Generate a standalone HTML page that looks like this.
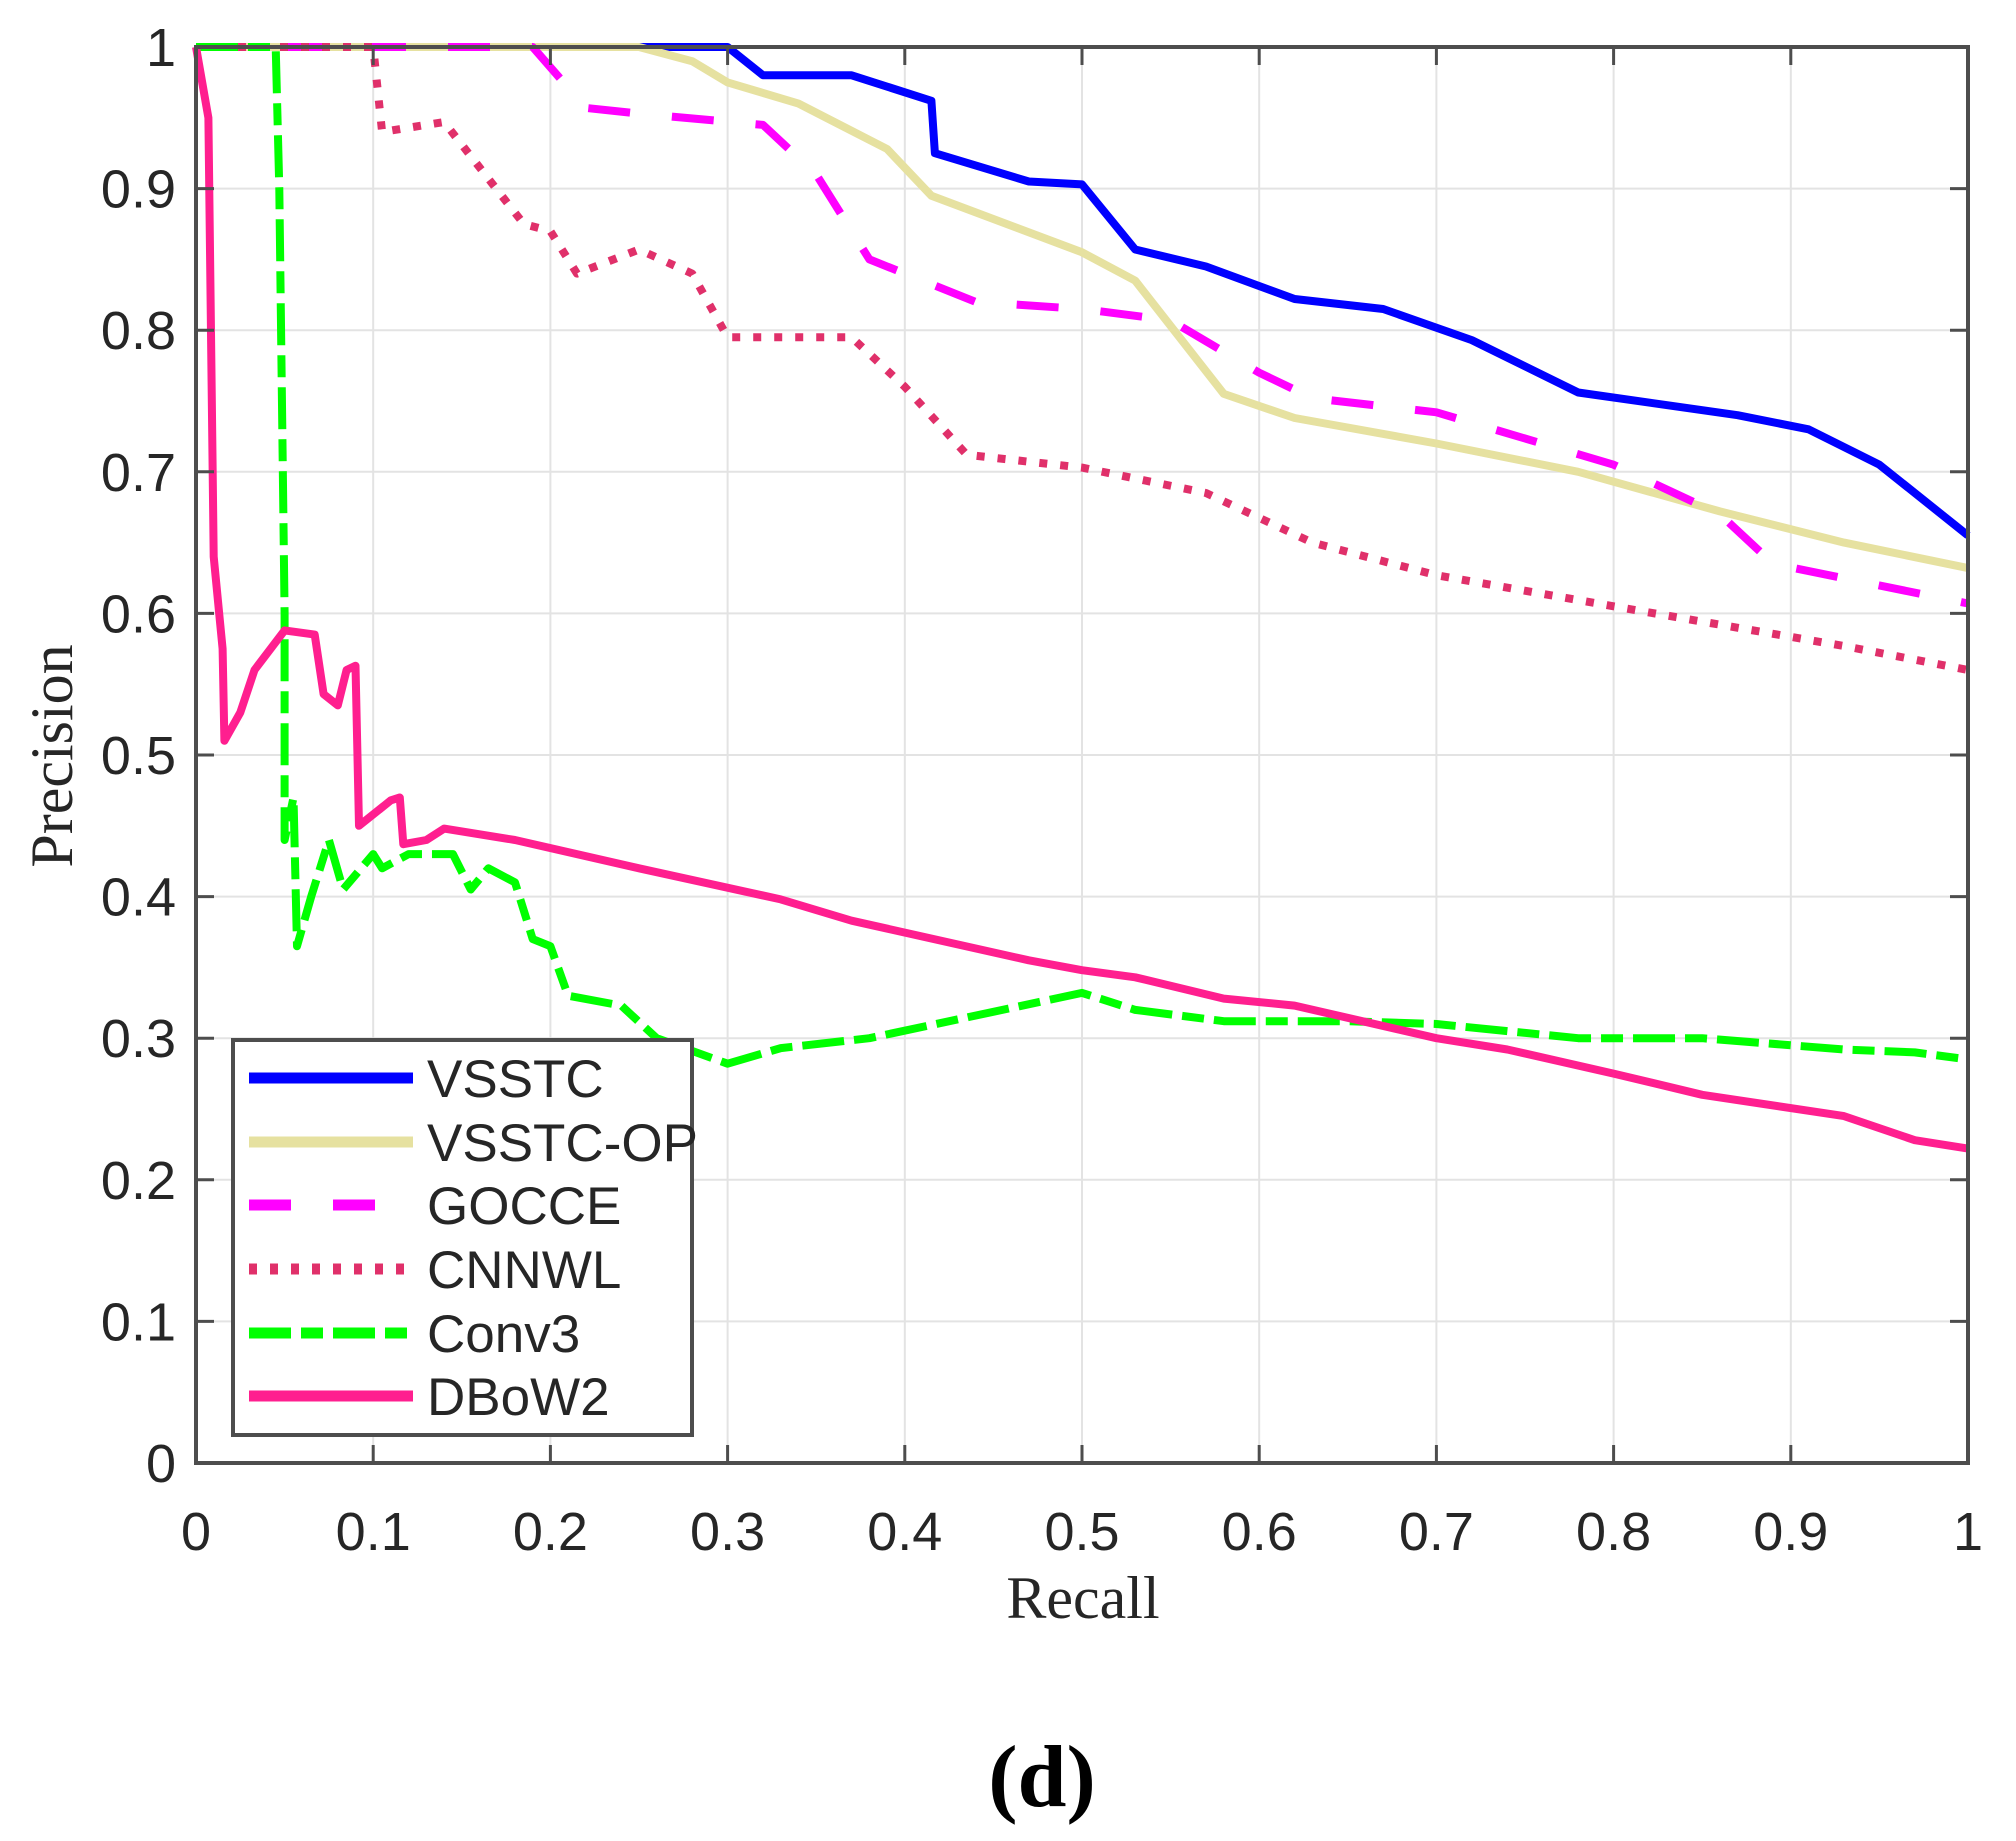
<!DOCTYPE html>
<html><head><meta charset="utf-8"><style>
html,body{margin:0;padding:0;background:#fff;}
svg{display:block;}
text{font-family:"Liberation Sans",sans-serif;fill:#262626;}
</style></head><body>
<svg id="s" width="2016" height="1841" viewBox="0 0 2016 1841" xmlns="http://www.w3.org/2000/svg">
<rect width="2016" height="1841" fill="#fff"/>
<g id="grid" stroke="#e3e3e3" stroke-width="2"></g>
<g id="series" fill="none" stroke-linejoin="round"></g>
<rect x="196" y="47" width="1772" height="1416" fill="none" stroke="#4d4d4d" stroke-width="4"/>
<g id="ticks" stroke="#4d4d4d" stroke-width="3"></g>
<g id="labels" font-size="54"></g>
<text x="1083" y="1618" font-size="60" text-anchor="middle" style="font-family:'Liberation Serif',serif">Recall</text>
<text transform="translate(72,756) rotate(-90)" font-size="60" text-anchor="middle" style="font-family:'Liberation Serif',serif">Precision</text>
<text x="1042" y="1806" font-size="88" font-weight="bold" text-anchor="middle" style="font-family:'Liberation Serif',serif;fill:#000">(d)</text>
<rect x="233" y="1040" width="459" height="395" fill="#fff" stroke="#4d4d4d" stroke-width="4"/>
<g stroke-width="11">
<line x1="249" y1="1078" x2="413" y2="1078" stroke="#0000ff"/>
<line x1="249" y1="1142" x2="413" y2="1142" stroke="#e6e1a0"/>
<line x1="249" y1="1205" x2="413" y2="1205" stroke="#ff00ff" stroke-dasharray="42 42"/>
<line x1="249" y1="1269" x2="413" y2="1269" stroke="#e0306a" stroke-dasharray="8 13"/>
<line x1="249" y1="1333" x2="413" y2="1333" stroke="#00ff00" stroke-dasharray="42 10 22 10"/>
<line x1="249" y1="1396" x2="413" y2="1396" stroke="#ff1f8f"/>
</g>
<g font-size="53">
<text x="427" y="1097">VSSTC</text>
<text x="427" y="1161">VSSTC-OP</text>
<text x="427" y="1224">GOCCE</text>
<text x="427" y="1288">CNNWL</text>
<text x="427" y="1352">Conv3</text>
<text x="427" y="1415">DBoW2</text>
</g>
</svg>
<script>
var NS="http://www.w3.org/2000/svg";
function X(r){return 196+r*1772}function Y(p){return 1463-p*1416}
function el(t,a,parent){var e=document.createElementNS(NS,t);for(var k in a)e.setAttribute(k,a[k]);document.getElementById(parent).appendChild(e);return e;}
for(var i=1;i<10;i++){var x=X(i/10),y=Y(i/10);
el('line',{x1:x,y1:47,x2:x,y2:1463},'grid');el('line',{x1:196,y1:y,x2:1968,y2:y},'grid');}
for(var i=0;i<=10;i++){var x=X(i/10),y=Y(i/10);
if(i>0&&i<10){el('line',{x1:x,y1:1463,x2:x,y2:1445},'ticks');el('line',{x1:x,y1:47,x2:x,y2:65},'ticks');
el('line',{x1:196,y1:y,x2:214,y2:y},'ticks');el('line',{x1:1968,y1:y,x2:1950,y2:y},'ticks');}
var lab=i==0?'0':(i==10?'1':'0.'+i);
var t=el('text',{x:x,y:1550,'text-anchor':'middle'},'labels');t.textContent=lab;
var t2=el('text',{x:176,y:y+19,'text-anchor':'end'},'labels');t2.textContent=lab;}
var S=[
["#0000ff",null,[[0,1],[0.3,1],[0.32,0.98],[0.37,0.98],[0.415,0.962],[0.417,0.925],[0.47,0.905],[0.5,0.903],[0.53,0.857],[0.57,0.845],[0.62,0.822],[0.67,0.815],[0.72,0.793],[0.78,0.756],[0.87,0.74],[0.91,0.73],[0.95,0.705],[1,0.655]]],
["#e6e1a0",null,[[0,1],[0.25,1],[0.28,0.99],[0.3,0.975],[0.34,0.96],[0.39,0.928],[0.415,0.895],[0.5,0.855],[0.53,0.835],[0.58,0.755],[0.62,0.738],[0.7,0.72],[0.78,0.7],[0.86,0.672],[0.93,0.65],[1,0.632]]],
["#ff00ff","42 42",[[0,1],[0.19,1],[0.22,0.957],[0.25,0.953],[0.32,0.945],[0.35,0.91],[0.38,0.85],[0.44,0.82],[0.5,0.815],[0.55,0.807],[0.6,0.77],[0.63,0.752],[0.7,0.742],[0.8,0.705],[0.86,0.67],[0.89,0.635],[1,0.607]]],
["#e0306a","8 13",[[0,1],[0.1,1],[0.105,0.94],[0.14,0.947],[0.185,0.875],[0.2,0.87],[0.215,0.84],[0.25,0.857],[0.28,0.84],[0.3,0.795],[0.37,0.795],[0.4,0.76],[0.435,0.712],[0.5,0.703],[0.57,0.685],[0.63,0.65],[0.7,0.627],[0.8,0.605],[0.86,0.592],[0.93,0.577],[1,0.56]]],
["#00ff00","42 10 22 10",[[0,1],[0.045,1],[0.047,0.9],[0.05,0.6],[0.05,0.44],[0.055,0.47],[0.057,0.365],[0.065,0.4],[0.075,0.44],[0.083,0.405],[0.1,0.43],[0.105,0.42],[0.12,0.43],[0.145,0.43],[0.155,0.405],[0.165,0.42],[0.18,0.41],[0.19,0.37],[0.2,0.365],[0.21,0.33],[0.24,0.323],[0.26,0.3],[0.3,0.282],[0.33,0.293],[0.38,0.3],[0.5,0.332],[0.53,0.32],[0.58,0.312],[0.65,0.312],[0.7,0.31],[0.78,0.3],[0.85,0.3],[0.93,0.292],[0.97,0.29],[1,0.285]]],
["#ff1f8f",null,[[0,1],[0.007,0.95],[0.01,0.64],[0.015,0.575],[0.016,0.51],[0.025,0.53],[0.033,0.56],[0.05,0.588],[0.067,0.585],[0.072,0.543],[0.08,0.535],[0.085,0.56],[0.09,0.563],[0.092,0.45],[0.11,0.468],[0.115,0.47],[0.117,0.437],[0.13,0.44],[0.14,0.448],[0.18,0.44],[0.25,0.42],[0.33,0.398],[0.37,0.383],[0.47,0.355],[0.5,0.348],[0.53,0.343],[0.58,0.328],[0.62,0.323],[0.7,0.3],[0.74,0.292],[0.8,0.275],[0.85,0.26],[0.93,0.245],[0.97,0.228],[1,0.222]]]
];
S.forEach(function(s){var d=s[2].map(function(p,i){return (i?'L':'M')+X(p[0]).toFixed(1)+' '+Y(p[1]).toFixed(1)}).join(' ');
var a={d:d,stroke:s[0],'stroke-width':8};if(s[1])a['stroke-dasharray']=s[1];el('path',a,'series');});
</script>
</body></html>
